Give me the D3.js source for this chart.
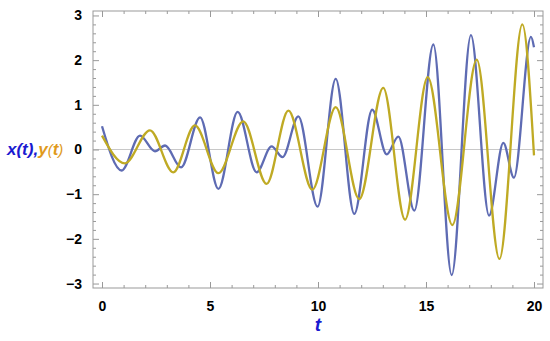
<!DOCTYPE html>
<html><head><meta charset="utf-8">
<script src="https://cdn.jsdelivr.net/npm/d3@7/dist/d3.min.js"></script>
<style>body{margin:0;background:#fff}svg{display:block}</style>
</head><body>
<svg id="c" width="550" height="341"></svg>
<script>
// x(t) series: key points (start, extrema, end)
const tX = [0, 0.91, 1.76, 2.45, 2.92, 3.66, 4.54, 5.39, 6.28, 7.16, 7.85, 8.36, 9.09, 9.98, 10.82, 11.68, 12.51, 13.18, 13.72, 14.46, 15.34, 16.19, 17.08, 17.92, 18.58, 19.07, 19.86, 20];
const xVals = [0.52, -0.47, 0.31, -0.04, 0.09, -0.40, 0.72, -0.88, 0.84, -0.51, 0.07, -0.17, 0.74, -1.28, 1.58, -1.44, 0.89, -0.11, 0.29, -1.37, 2.35, -2.81, 2.56, -1.48, 0.15, -0.63, 2.52, 2.29];
// y(t) series
const tY = [0, 1.06, 2.22, 3.30, 4.30, 5.39, 6.54, 7.62, 8.63, 9.74, 10.82, 11.91, 13.02, 14.03, 15.08, 16.22, 17.35, 18.40, 19.46, 20];
const yVals = [0.31, -0.31, 0.43, -0.51, 0.54, -0.53, 0.63, -0.77, 0.87, -0.90, 0.95, -1.11, 1.38, -1.57, 1.62, -1.69, 2.01, -2.45, 2.80, -0.13];
const xTicks = [0, 5, 10, 15, 20];
const yTicks = [-3, -2, -1, 0, 1, 2, 3];

const svg = d3.select("#c");
const L = 93, R = 543, T = 11, B = 288;
const x = d3.scaleLinear().domain([-0.417, 20.417]).range([L, R]);
const y = d3.scaleLinear().domain([-3.1, 3.1]).range([B, T]);

const xMinor = d3.range(0, 21, 1).filter(v => v % 5 !== 0);
const yMinor = d3.range(-3, 3.01, 0.2).map(v => +v.toFixed(1)).filter(v => Math.abs(v - Math.round(v)) > 1e-6);
const fmt = d => d < 0 ? "\u2212" + Math.abs(d) : "" + d;

function styleAxis(g) {
  g.select(".domain").remove();
  g.selectAll("line").attr("stroke", "#999").attr("stroke-width", 1);
  g.selectAll("text").attr("font-family", "Liberation Sans, Arial, sans-serif")
    .attr("font-weight", "bold").attr("font-size", 14).attr("fill", "#000");
}

// zero line
svg.append("line").attr("x1", L).attr("x2", R).attr("y1", y(0)).attr("y2", y(0))
  .attr("stroke", "#c8c8c8").attr("stroke-width", 1);

// axes
svg.append("g").attr("transform", `translate(0,${B})`)
  .call(d3.axisBottom(x).tickValues(xTicks).tickFormat(fmt).tickSizeInner(-6).tickPadding(13)).call(styleAxis);
svg.append("g").attr("transform", `translate(0,${B})`)
  .call(d3.axisBottom(x).tickValues(xMinor).tickFormat("").tickSizeInner(-3)).call(styleAxis);
svg.append("g").attr("transform", `translate(0,${T})`)
  .call(d3.axisTop(x).tickValues(xTicks).tickFormat("").tickSizeInner(-6)).call(styleAxis);
svg.append("g").attr("transform", `translate(0,${T})`)
  .call(d3.axisTop(x).tickValues(xMinor).tickFormat("").tickSizeInner(-3)).call(styleAxis);
svg.append("g").attr("transform", `translate(${L},0)`)
  .call(d3.axisLeft(y).tickValues(yTicks).tickFormat(fmt).tickSizeInner(-6).tickPadding(11)).call(styleAxis);
svg.append("g").attr("transform", `translate(${L},0)`)
  .call(d3.axisLeft(y).tickValues(yMinor).tickFormat("").tickSizeInner(-3)).call(styleAxis);
svg.append("g").attr("transform", `translate(${R},0)`)
  .call(d3.axisRight(y).tickValues(yTicks).tickFormat("").tickSizeInner(-6)).call(styleAxis);
svg.append("g").attr("transform", `translate(${R},0)`)
  .call(d3.axisRight(y).tickValues(yMinor).tickFormat("").tickSizeInner(-3)).call(styleAxis);

// frame
svg.append("rect").attr("x", L).attr("y", T).attr("width", R - L).attr("height", B - T)
  .attr("fill", "none").attr("stroke", "#999").attr("stroke-width", 1);

// curves
svg.append("clipPath").attr("id", "clp").append("rect")
  .attr("x", L).attr("y", T).attr("width", R - L).attr("height", B - T);
const line = d3.line().curve(d3.curveMonotoneX);
svg.append("path").attr("clip-path", "url(#clp)")
  .attr("d", line(tX.map((t, i) => [x(t), y(xVals[i])])))
  .attr("fill", "none").attr("stroke", "#5e6bb3").attr("stroke-width", 2.3);
svg.append("path").attr("clip-path", "url(#clp)")
  .attr("d", line(tY.map((t, i) => [x(t), y(yVals[i])])))
  .attr("fill", "none").attr("stroke", "#bfaa24").attr("stroke-width", 2.3);

// axis labels
const yl = svg.append("text").attr("x", 7).attr("y", 155)
  .attr("font-family", "Liberation Sans, Arial, sans-serif").attr("font-size", 17)
  .attr("font-weight", "bold").attr("font-style", "italic");
yl.append("tspan").attr("fill", "#1a1ad0").text("x(t),");
yl.append("tspan").attr("fill", "#e09a1c").text("y");
yl.append("tspan").attr("fill", "#e09a1c").attr("font-size", 15).attr("font-weight", "normal").text("(");
yl.append("tspan").attr("fill", "#e09a1c").text("t");
yl.append("tspan").attr("fill", "#e09a1c").attr("font-size", 15).attr("font-weight", "normal").text(")");

svg.append("text").attr("x", x(10)).attr("y", 331).attr("text-anchor", "middle")
  .attr("font-family", "Liberation Sans, Arial, sans-serif").attr("font-size", 19)
  .attr("font-weight", "bold").attr("font-style", "italic").attr("fill", "#1a1ad0").text("t");
</script>
</body></html>
